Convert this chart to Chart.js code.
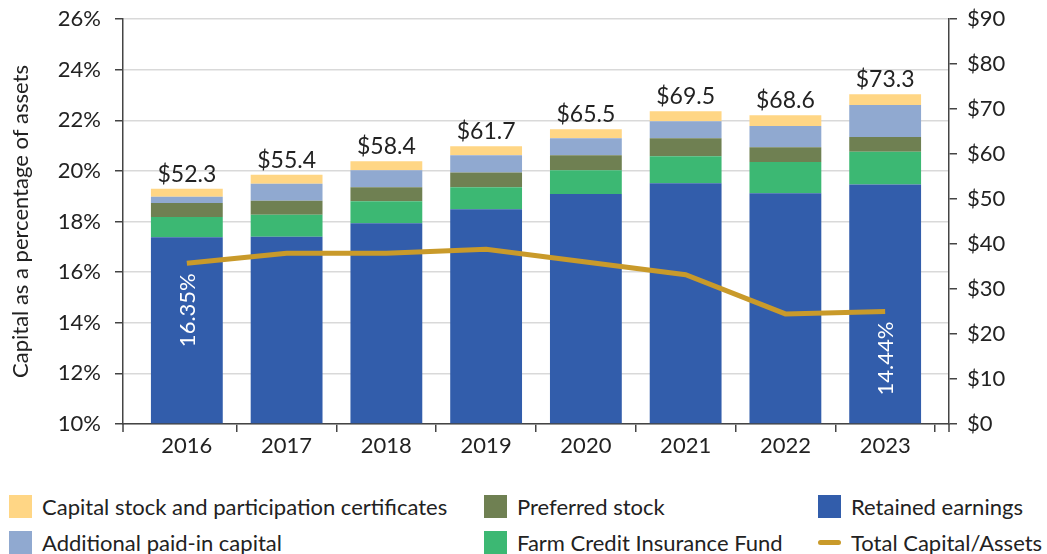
<!DOCTYPE html>
<html>
<head>
<meta charset="utf-8">
<script src="https://cdn.jsdelivr.net/npm/chart.js@4"></script>
<style>
  html, body { margin: 0; padding: 0; background: #fff; }
  #wrap { position: relative; width: 1047px; height: 554px; font-family: Lato, "Noto Sans", sans-serif; color: #222; }
  #chart { position: absolute; left: 0; top: 0; }
  .lg { position: absolute; height: 23px; line-height: 23px; font-size: 22px; white-space: nowrap; }
  .lg .sw { position: absolute; left: 0; top: 0; width: 23px; height: 23px; }
  .lg .ln { position: absolute; left: 0; top: 9px; width: 23px; height: 5px; border-radius: 3px; }
  .lg span { position: absolute; left: 33px; top: 0; }
</style>
</head>
<body>
<div id="wrap">
  <canvas id="chart" width="1047" height="470"></canvas>
  <div id="legend"></div>
</div>
<script>
const years     = ['2016', '2017', '2018', '2019', '2020', '2021', '2022', '2023'];
// $ billions, stacked bottom to top
const retained  = [41.5, 41.6, 44.6, 47.7, 51.1, 53.5, 51.3, 53.2];
const insurance = [4.5, 4.9, 4.9, 4.9, 5.3, 6.0, 6.9, 7.3];
const preferred = [3.1, 3.1, 3.1, 3.3, 3.3, 4.0, 3.3, 3.3];
const paidIn    = [1.4, 3.8, 3.8, 3.8, 3.8, 3.8, 4.7, 7.1];
const capStock  = [1.8, 2.0, 2.0, 2.0, 2.0, 2.2, 2.4, 2.4];
const totals    = [52.3, 55.4, 58.4, 61.7, 65.5, 69.5, 68.6, 73.3];
// total capital / assets, %
const ratio     = [16.35, 16.75, 16.75, 16.9, 16.4, 15.9, 14.35, 14.44];

const FONT = 'Lato, "Noto Sans", sans-serif';
const C = {
  retained: '#325dab', insurance: '#3cb873', preferred: '#6f8052',
  paidIn: '#90a9d0', capStock: '#ffd685', line: '#c99a2a'
};
const xy = arr => arr.map((v, i) => ({ x: i, y: v }));

const bar = (label, data, color) => ({
  type: 'bar', label, data: xy(data), backgroundColor: color, yAxisID: 'y',
  barPercentage: 0.72, categoryPercentage: 1, order: 1
});

// totals above bars, % labels on first/last point, corner ticks
const labelsPlugin = {
  id: 'labels',
  afterDatasetsDraw(chart) {
    const ctx = chart.ctx;
    const top = chart.getDatasetMeta(4).data;
    ctx.save();
    ctx.font = '23px ' + FONT;
    ctx.fillStyle = '#222';
    ctx.textAlign = 'center';
    ctx.textBaseline = 'alphabetic';
    top.forEach((el, i) => ctx.fillText('$' + totals[i].toFixed(1), el.x, el.y - 7));

    const pts = chart.getDatasetMeta(5).data;
    ctx.font = '22px ' + FONT;
    ctx.fillStyle = '#fff';
    [0, pts.length - 1].forEach(i => {
      const p = pts[i];
      ctx.save();
      ctx.translate(p.x + 1, p.y + 10);
      ctx.rotate(-Math.PI / 2);
      ctx.textAlign = 'right';
      ctx.textBaseline = 'middle';
      ctx.fillText(ratio[i].toFixed(2) + '%', 0, 0);
      ctx.restore();
    });

    const a = chart.chartArea;
    ctx.strokeStyle = '#444';
    ctx.lineWidth = 1.5;
    ctx.beginPath();
    [a.left, a.right].forEach(x => { ctx.moveTo(x, a.bottom); ctx.lineTo(x, a.bottom + 8); });
    ctx.stroke();
    ctx.restore();
  }
};

new Chart(document.getElementById('chart'), {
  data: {
    datasets: [
      bar('Retained earnings', retained, C.retained),
      bar('Farm Credit Insurance Fund', insurance, C.insurance),
      bar('Preferred stock', preferred, C.preferred),
      bar('Additional paid-in capital', paidIn, C.paidIn),
      bar('Capital stock and participation certificates', capStock, C.capStock),
      { type: 'line', label: 'Total Capital/Assets', data: xy(ratio), yAxisID: 'yL',
        borderColor: C.line, backgroundColor: C.line, borderWidth: 5,
        pointRadius: 0, tension: 0, order: 0 }
    ]
  },
  options: {
    responsive: false,
    animation: false,
    layout: { padding: { top: 19, left: 0, right: 0, bottom: 0 } },
    plugins: { legend: { display: false }, tooltip: { enabled: false } },
    scales: {
      x: {
        type: 'linear', stacked: true, offset: false,
        min: -0.64, max: years.length - 1 + 0.64,
        afterBuildTicks(s) {
          s.ticks = years.map((_, i) => ({ value: i }));
        },
        grid: {
          offset: true, drawOnChartArea: false, tickLength: 8, lineWidth: 1.5,
          tickColor: c => (c.index === 0 || c.index === years.length) ? 'rgba(0,0,0,0)' : '#444'
        },
        border: { color: '#444', width: 1.5 },
        ticks: { font: { family: FONT, size: 22 }, color: '#222', padding: 1,
                 autoSkip: false, maxRotation: 0, callback: v => years[v] },
        afterFit(s) { s.height = 46; s.paddingLeft = 0; s.paddingRight = 0; }
      },
      yL: {
        position: 'left', min: 10, max: 26,
        grid: { color: '#d9d9d9', lineWidth: 1.5, tickColor: '#444', tickLength: 8 },
        border: { color: '#444', width: 1.5 },
        ticks: { stepSize: 2, font: { family: FONT, size: 22 }, color: '#222', padding: 14,
                 callback: v => v + '%' },
        title: { display: true, text: 'Capital as a percentage of assets',
                 font: { family: FONT, size: 22 }, color: '#222', padding: { top: 8, bottom: 0 } },
        afterFit(s) { s.width = 123; s.paddingTop = 0; s.paddingBottom = 0; }
      },
      y: {
        position: 'right', stacked: true, min: 0, max: 90,
        grid: { drawOnChartArea: false, color: '#444', tickLength: 8, lineWidth: 1.5 },
        border: { color: '#444', width: 1.5 },
        ticks: { stepSize: 10, font: { family: FONT, size: 22 }, color: '#222', padding: 10,
                 callback: v => '$' + v },
        afterFit(s) { s.width = 98; s.paddingTop = 0; s.paddingBottom = 0; }
      }
    }
  },
  plugins: [labelsPlugin]
});

// legend in three columns
const legendItems = [
  ['Capital stock and participation certificates', C.capStock, 'box', 9, 495],
  ['Additional paid-in capital', C.paidIn, 'box', 9, 531],
  ['Preferred stock', C.preferred, 'box', 484, 495],
  ['Farm Credit Insurance Fund', C.insurance, 'box', 484, 531],
  ['Retained earnings', C.retained, 'box', 818, 495],
  ['Total Capital/Assets', C.line, 'line', 818, 531]
];
document.getElementById('legend').innerHTML = legendItems.map(([t, c, k, x, y]) =>
  `<div class="lg" style="left:${x}px;top:${y}px">
     <div class="${k === 'line' ? 'ln' : 'sw'}" style="background:${c}"></div><span>${t}</span>
   </div>`).join('');
</script>
</body>
</html>
